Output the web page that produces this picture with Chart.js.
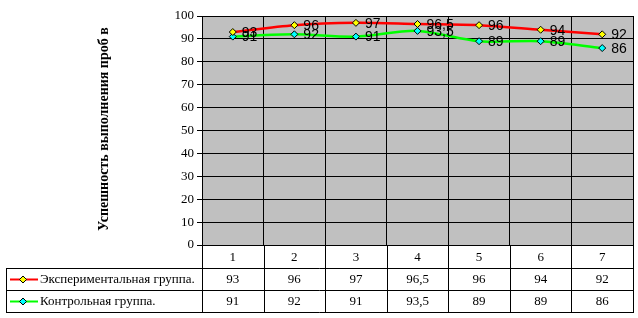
<!DOCTYPE html>
<html>
<head>
<meta charset="utf-8">
<script src="https://cdn.jsdelivr.net/npm/chart.js@4"></script>
<style>
  body { margin: 0; background: #fff; }
  #wrap { width: 638px; height: 318px; }
</style>
</head>
<body>
<div id="wrap"><canvas id="chart" width="638" height="318"></canvas></div>
<script>
const categories = ["1", "2", "3", "4", "5", "6", "7"];
const expValues = [93, 96, 97, 96.5, 96, 94, 92];
const ctrlValues = [91, 92, 91, 93.5, 89, 89, 86];
const seriesNames = ["Экспериментальная группа.", "Контрольная группа."];
const yTitle = "Успешность выполнения проб в %";

const SERIF = "'Liberation Serif', 'Times New Roman', serif";
const SANS = "'Liberation Sans', Arial, sans-serif";

// ru number format: 96,5
function fmt(v) {
  return String(v).replace(".", ",");
}

const bgPlugin = {
  id: "bg",
  beforeDraw(chart) {
    const { ctx, chartArea } = chart;
    ctx.save();
    ctx.fillStyle = "#fff";
    ctx.fillRect(0, 0, chart.width, chart.height);
    ctx.fillStyle = "#C0C0C0";
    ctx.fillRect(chartArea.left, chartArea.top, chartArea.right - chartArea.left, chartArea.bottom - chartArea.top);
    ctx.restore();
  },
};

// point labels to the right of markers
const labelPlugin = {
  id: "labels",
  afterDatasetsDraw(chart) {
    const ctx = chart.ctx;
    ctx.save();
    ctx.font = "14px " + SANS;
    ctx.fillStyle = "#000";
    ctx.textAlign = "left";
    ctx.textBaseline = "middle";
    chart.data.datasets.forEach((ds, i) => {
      chart.getDatasetMeta(i).data.forEach((pt, j) => {
        ctx.fillText(fmt(ds.data[j]), pt.x + 9, pt.y + 1);
      });
    });
    ctx.restore();
  },
};

// data table under the plot + y title
const tablePlugin = {
  id: "table",
  afterDraw(chart) {
    const ctx = chart.ctx;
    const xs = chart.scales.x;
    const area = chart.chartArea;
    const top = area.bottom;
    const row1 = top + 23;
    const row2 = row1 + 22;
    const bottom = row2 + 22;
    const left = 6;
    const colW = (area.right - area.left) / categories.length;

    ctx.save();
    ctx.strokeStyle = "#000";
    ctx.lineWidth = 1;
    ctx.beginPath();
    // horizontal lines
    [row1, row2, bottom].forEach((y) => {
      ctx.moveTo(left, y + 0.5);
      ctx.lineTo(area.right + 0.5, y + 0.5);
    });
    ctx.moveTo(left + 0.5, row1);
    ctx.lineTo(left + 0.5, bottom + 1);
    for (let i = 0; i <= categories.length; i++) {
      const x = Math.round(area.left + i * colW) + 0.5;
      ctx.moveTo(x, top);
      ctx.lineTo(x, bottom + 1);
    }
    ctx.stroke();

    ctx.fillStyle = "#000";
    ctx.font = "13px " + SERIF;
    ctx.textAlign = "center";
    ctx.textBaseline = "middle";
    categories.forEach((c, j) => {
      const x = xs.getPixelForValue(j);
      ctx.fillText(c, x, (top + row1) / 2 + 1);
      ctx.fillText(fmt(expValues[j]), x, (row1 + row2) / 2 + 1);
      ctx.fillText(fmt(ctrlValues[j]), x, (row2 + bottom) / 2 + 1);
    });

    // legend keys
    const rows = [(row1 + row2) / 2, (row2 + bottom) / 2];
    chart.data.datasets.forEach((ds, i) => {
      const y = Math.round(rows[i]) + 0.5;
      ctx.strokeStyle = ds.borderColor;
      ctx.lineWidth = 2;
      ctx.beginPath();
      ctx.moveTo(10, y);
      ctx.lineTo(38, y);
      ctx.stroke();
      ctx.fillStyle = ds.pointBackgroundColor;
      ctx.strokeStyle = "#000";
      ctx.lineWidth = 1;
      ctx.beginPath();
      ctx.moveTo(23, y - 3.5);
      ctx.lineTo(26.5, y);
      ctx.lineTo(23, y + 3.5);
      ctx.lineTo(19.5, y);
      ctx.closePath();
      ctx.fill();
      ctx.stroke();
      ctx.fillStyle = "#000";
      ctx.textAlign = "left";
      ctx.fillText(ds.label, 40, rows[i] + 1);
    });

    // y axis title, clipped at the top like the original
    ctx.save();
    ctx.beginPath();
    ctx.rect(0, 25, 200, 300);
    ctx.clip();
    ctx.translate(104, 231);
    ctx.rotate(-Math.PI / 2);
    ctx.font = "bold 14px " + SERIF;
    ctx.textAlign = "left";
    ctx.textBaseline = "middle";
    ctx.fillText(yTitle, 0, 0);
    ctx.restore();

    ctx.restore();
  },
};

const ctx = document.getElementById("chart");

const data = {
  labels: categories,
  datasets: [
    {
      label: seriesNames[0],
      data: expValues,
      borderColor: "#FF0000",
      borderWidth: 2.5,
      pointStyle: "rectRot",
      pointRadius: 3.5,
      pointBackgroundColor: "#FFFF00",
      pointBorderColor: "#000",
      pointBorderWidth: 1,
      tension: 0.3,
    },
    {
      label: seriesNames[1],
      data: ctrlValues,
      borderColor: "#00FF00",
      borderWidth: 2.5,
      pointStyle: "rectRot",
      pointRadius: 3.5,
      pointBackgroundColor: "#00FFFF",
      pointBorderColor: "#000",
      pointBorderWidth: 1,
      tension: 0.3,
    },
  ],
};

const config = {
  type: "line",
  data: data,
  options: {
    responsive: false,
    animation: false,
    events: [],
    layout: { padding: { top: 16, right: 4, left: 0, bottom: 0 } },
    plugins: {
      legend: { display: false },
      tooltip: { enabled: false },
    },
    scales: {
      x: {
        offset: true,
        grid: { offset: true, color: "#000", drawTicks: false },
        border: { color: "#000" },
        ticks: { display: false },
        afterFit(scale) {
          scale.height = 73;
        },
      },
      y: {
        min: 0,
        max: 100,
        ticks: {
          stepSize: 10,
          color: "#000",
          padding: 3,
          font: { family: SERIF, size: 13 },
        },
        grid: { color: "#000", tickLength: 5 },
        border: { color: "#000" },
        afterFit(scale) {
          scale.width = 202;
        },
      },
    },
  },
  plugins: [bgPlugin, labelPlugin, tablePlugin],
};

const chart = new Chart(ctx, config);
</script>
</body>
</html>
